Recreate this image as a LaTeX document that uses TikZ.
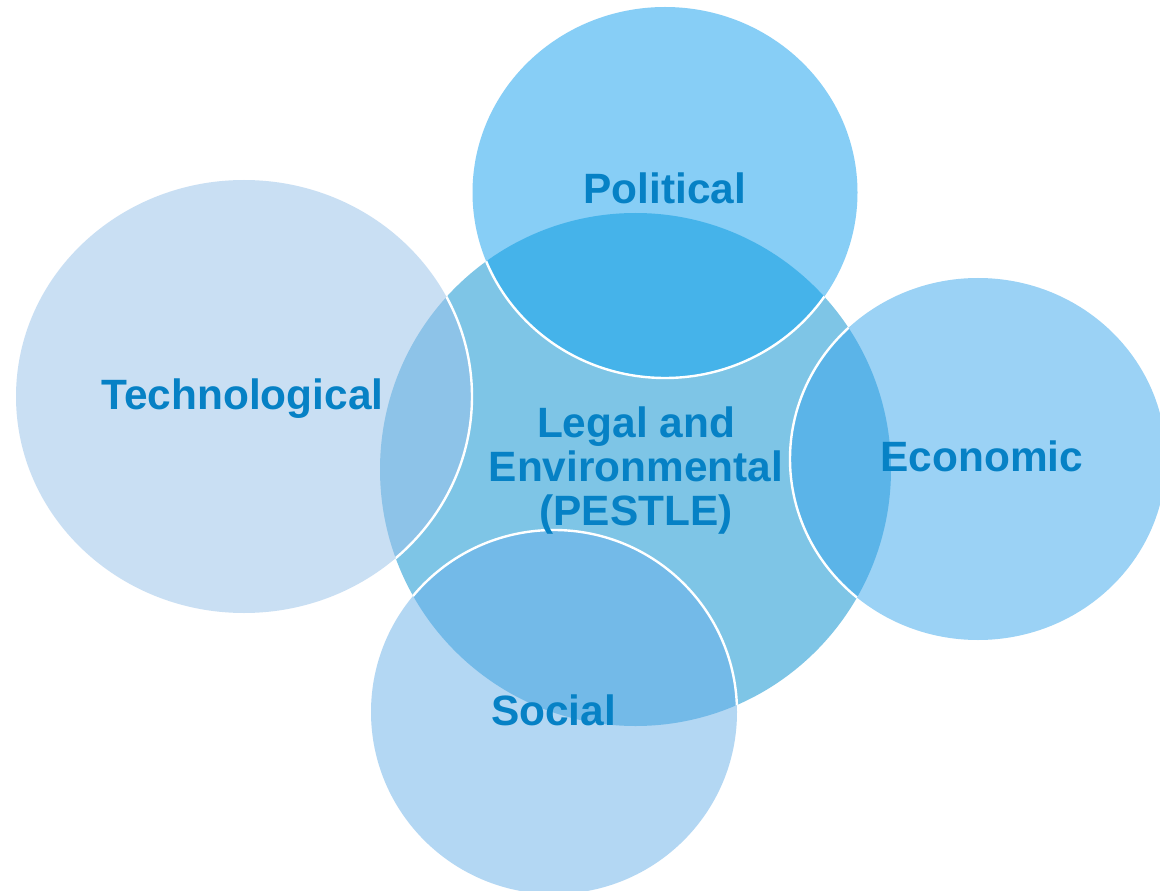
\documentclass[tikz,border=0pt]{standalone}
\usepackage{fontspec}
\setmainfont{Liberation Sans}
\definecolor{colT}{HTML}{C9DFF3}
\definecolor{colP}{HTML}{87CEF6}
\definecolor{colE}{HTML}{9BD2F5}
\definecolor{colS}{HTML}{B3D7F3}
\definecolor{colC}{HTML}{7EC5E6}
\definecolor{colPC}{HTML}{45B3EA}
\definecolor{colTC}{HTML}{8DC3E8}
\definecolor{colEC}{HTML}{5BB4E8}
\definecolor{colSC}{HTML}{73BAE8}
\definecolor{txt}{HTML}{0681C5}
\tikzset{
  lbl/.style={text=txt, font=\fontsize{31.8}{33}\selectfont\bfseries, anchor=base, inner sep=0pt, align=center},
  rim/.style={draw=white, line width=1.8pt}
}
\def\pathT{(244,396.5) ellipse [x radius=171pt, y radius=162.375pt]}
\def\pathP{(665,192.5) ellipse [x radius=144.375pt, y radius=139.125pt]}
\def\pathE{(978,459) ellipse [x radius=141pt, y radius=135.75pt]}
\def\pathS{(554,712) ellipse [x radius=137.25pt, y radius=136.5pt]}
\def\pathC{(635.5,469.5) ellipse [x radius=191.625pt, y radius=192.375pt]}
\begin{document}
\begin{tikzpicture}[x=0.75pt,y=-0.75pt]
\useasboundingbox (0,0) rectangle (1160,891);
\fill[white] (0,0) rectangle (1160,891);
% base shapes
\fill[colC] \pathC;
\fill[colT] \pathT;
\fill[colP] \pathP;
\fill[colE] \pathE;
\fill[colS] \pathS;
% overlaps with the centre
\begin{scope}
  \clip \pathC;
  \fill[colTC] \pathT;
  \fill[colPC] \pathP;
  \fill[colEC] \pathE;
  \fill[colSC] \pathS;
  \draw[rim] \pathT;
  \draw[rim] \pathP;
  \draw[rim] \pathE;
  \draw[rim] \pathS;
\end{scope}
% labels
\node[lbl] (political) at (665,204) {Political};
\node[lbl] (technological) at (242.5,409) {Technological};
\node[lbl] (economic) at (982,471) {Economic};
\node[lbl] (social) at (553.5,725) {Social};
\node[lbl] (legal1) at (636,437) {Legal and};
\node[lbl] (legal2) at (636,481) {Environmental};
\node[lbl] (legal3) at (636,525) {(PESTLE)};
\end{tikzpicture}
\end{document}
